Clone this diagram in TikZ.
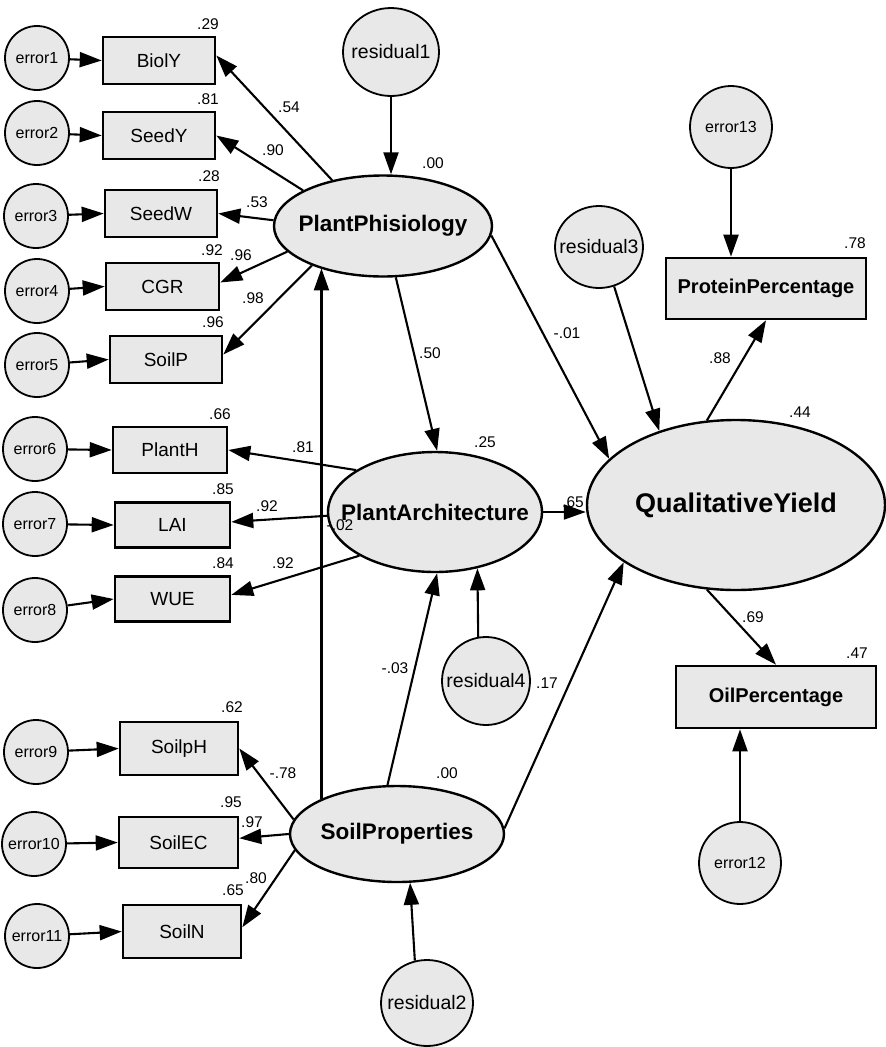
\documentclass[tikz,border=0pt]{standalone}
\usepackage{fontspec}
\setmainfont{Liberation Sans}
\usetikzlibrary{shapes.geometric,arrows.meta}
\definecolor{nodefill}{RGB}{232,232,232}
\newcommand\fsz[1]{\fontsize{#1}{#1}\selectfont}
\newcommand\zb[1]{\makebox[0pt]{#1}}
\tikzset{
  err/.style={circle, draw, line width=1.8pt, fill=nodefill, minimum size=64pt, inner sep=0pt, font=\fsz{16}},
  bigerr/.style={err, minimum size=82pt},
  res/.style={ellipse, draw, line width=1.8pt, fill=nodefill, inner sep=0pt, font=\fsz{19.5}},
  obs/.style={rectangle, draw, line width=2.6pt, fill=nodefill, inner sep=0pt, font=\fsz{19}},
  obsbold/.style={obs, font=\fsz{20}\bfseries},
  lat/.style={ellipse, draw, line width=2.4pt, fill=nodefill, inner sep=0pt, font=\fsz{22.5}\bfseries},
  lab/.style={inner sep=0pt, font=\fsz{15.5}},
  arr/.style={line width=2.1pt, -{Triangle[length=22pt,width=15pt]}},
}
\begin{document}
\begin{tikzpicture}[x=1pt,y=-1pt]
\fill[white] (0,0) rectangle (886,1047);
\useasboundingbox (0,0) rectangle (886,1047);

% error circles
\node[err] (e1) at (37,58) {\zb{error1}};
\node[err] (e2) at (37,133) {\zb{error2}};
\node[err] (e3) at (36,216) {\zb{error3}};
\node[err] (e4) at (37,291) {\zb{error4}};
\node[err] (e5) at (37,365) {\zb{error5}};
\node[err] (e6) at (35,449) {\zb{error6}};
\node[err] (e7) at (35,524) {\zb{error7}};
\node[err] (e8) at (35,610) {\zb{error8}};
\node[err] (e9) at (36,752) {\zb{error9}};
\node[err] (e10) at (34,844) {\zb{error10}};
\node[err] (e11) at (37,936) {\zb{error11}};
\node[bigerr] (e12) at (740,863) {\zb{error12}};
\node[bigerr] (e13) at (731,127) {\zb{error13}};

% residuals
\node[res, minimum width=96pt, minimum height=88pt] (res1) at (391,52) {\zb{residual1}};
\node[res, minimum width=92pt, minimum height=86pt] (res2) at (427,1003) {\zb{residual2}};
\node[res, minimum width=88pt, minimum height=82pt] (res3) at (599,247) {\zb{residual3}};
\node[res, minimum width=88pt, minimum height=88pt] (res4) at (486,681) {\zb{residual4}};

% observed boxes
\node[obs, minimum width=112pt, minimum height=47pt] (BiolY) at (159,60.5) {BiolY};
\node[obs, minimum width=112pt, minimum height=47pt] (SeedY) at (159,135.5) {SeedY};
\node[obs, minimum width=112pt, minimum height=47pt] (SeedW) at (161,213.5) {SeedW};
\node[obs, minimum width=113pt, minimum height=47pt] (CGR) at (162.5,286.5) {CGR};
\node[obs, minimum width=112pt, minimum height=47pt] (SoilP) at (166,359.5) {SoilP};
\node[obs, minimum width=114pt, minimum height=46pt] (PlantH) at (170,450) {PlantH};
\node[obs, minimum width=115pt, minimum height=45pt] (LAI) at (172.5,525) {LAI};
\node[obs, minimum width=115pt, minimum height=45pt] (WUE) at (172.5,599) {WUE};
\node[obs, minimum width=118pt, minimum height=53pt] (SoilpH) at (179,748.5) {SoilpH};
\node[obs, minimum width=119pt, minimum height=51pt] (SoilEC) at (178.5,842.5) {SoilEC};
\node[obs, minimum width=118pt, minimum height=53pt] (SoilN) at (182,931.5) {SoilN};
\node[obsbold, minimum width=200pt, minimum height=61pt] (Prot) at (766,288.5) {ProteinPercentage};
\node[obsbold, minimum width=200pt, minimum height=62pt] (Oil) at (776,697) {OilPercentage};

% latent ellipses
\node[lat, minimum width=218pt, minimum height=101pt] (PP) at (383,226) {\zb{PlantPhisiology}};
\node[lat, minimum width=214pt, minimum height=120pt] (PA) at (435,512) {\zb{PlantArchitecture}};
\node[lat, minimum width=298pt, minimum height=170pt, font=\fsz{27}\bfseries] (QY) at (736,505) {\zb{QualitativeYield}};
\node[lat, minimum width=214pt, minimum height=96pt] (SP) at (397,834) {\zb{SoilProperties}};

% error arrows
\draw[arr] (e1) -- (BiolY.west);
\draw[arr] (e2) -- (SeedY.west);
\draw[arr] (e3) -- (SeedW.west);
\draw[arr] (e4) -- (CGR.west);
\draw[arr] (e5) -- (SoilP.west);
\draw[arr] (e6) -- (PlantH.west);
\draw[arr] (e7) -- (LAI.west);
\draw[arr] (e8) -- (WUE.west);
\draw[arr] (e9) -- (SoilpH.west);
\draw[arr] (e10) -- (SoilEC.west);
\draw[arr] (e11) -- (SoilN.west);
\draw[arr] (e12) -- (e12 |- Oil.south);
\draw[arr] (e13) -- (e13 |- Prot.north);

% structural arrows
\draw[arr] (PP.138) -- (BiolY.5);
\draw[arr] (PP.156) -- (SeedY.east);
\draw[arr] (PP.177) -- (SeedW.east);
\draw[arr] (PP.195) -- (CGR.4);
\draw[arr] (PP.209) -- (SoilP.5);
\draw[arr] (res1) -- (res1 |- PP.north);
\draw[arr] (PP.284) -- (PA.88);
\draw[arr] (PP.355) -- (QY.160);
\draw[arr] (res3.291) -- (QY.136);
\draw[arr] (QY.109) -- (Prot.south);
\draw[arr] (PA.east) -- (PA.east -| QY.west);
\draw[arr] (PA.152) -- (PlantH.east);
\draw[arr] (PA.182) -- (LAI.3);
\draw[arr] (PA.210) -- (WUE.4);
\draw[arr] (SP.155) -- (SP.155 |- PP.214);
\draw[arr] (SP.101) -- (PA.272);
\draw[arr] (res4.100) -- (PA.307);
\draw[arr] (SP.3) -- (QY.207);
\draw[arr] (SP.172) -- (SoilpH.east);
\draw[arr] (SP.west) -- (SoilEC.4);
\draw[arr] (SP.189) -- (SoilN.4);
\draw[arr] (res2.106) -- (SP.285);
\draw[arr] (QY.251) -- (Oil.north);

% labels
\node[lab] (l01) at (208,24) {.29};
\node[lab] (l02) at (208,99) {.81};
\node[lab] (l03) at (289,107) {.54};
\node[lab] (l04) at (273,150) {.90};
\node[lab] (l05) at (209,176) {.28};
\node[lab] (l06) at (257,202) {.53};
\node[lab] (l07) at (212,250) {.92};
\node[lab] (l08) at (241,255) {.96};
\node[lab] (l09) at (253,298) {.98};
\node[lab] (l10) at (213,322) {.96};
\node[lab] (l11) at (433,163) {.00};
\node[lab] (l12) at (430,353) {.50};
\node[lab] (l13) at (567,333) {-.01};
\node[lab] (l14) at (855,243) {.78};
\node[lab] (l15) at (720,358) {.88};
\node[lab] (l16) at (800,412) {.44};
\node[lab] (l17) at (220,414) {.66};
\node[lab] (l18) at (303,447) {.81};
\node[lab] (l19) at (485,442) {.25};
\node[lab] (l20) at (223,489) {.85};
\node[lab] (l21) at (267,506) {.92};
\node[lab] (l22) at (340,525) {-.02};
\node[lab] (l23) at (573,502) {.65};
\node[lab] (l24) at (223,563) {.84};
\node[lab] (l25) at (283,563) {.92};
\node[lab] (l26) at (753,617) {.69};
\node[lab] (l27) at (857,653) {.47};
\node[lab] (l28) at (395,668) {-.03};
\node[lab] (l29) at (547,683) {.17};
\node[lab] (l30) at (232,707) {.62};
\node[lab] (l31) at (283,773) {-.78};
\node[lab] (l32) at (447,773) {.00};
\node[lab] (l33) at (231,802) {.95};
\node[lab] (l34) at (252,822) {.97};
\node[lab] (l35) at (256,878) {.80};
\node[lab] (l36) at (233,890) {.65};
\end{tikzpicture}
\end{document}
